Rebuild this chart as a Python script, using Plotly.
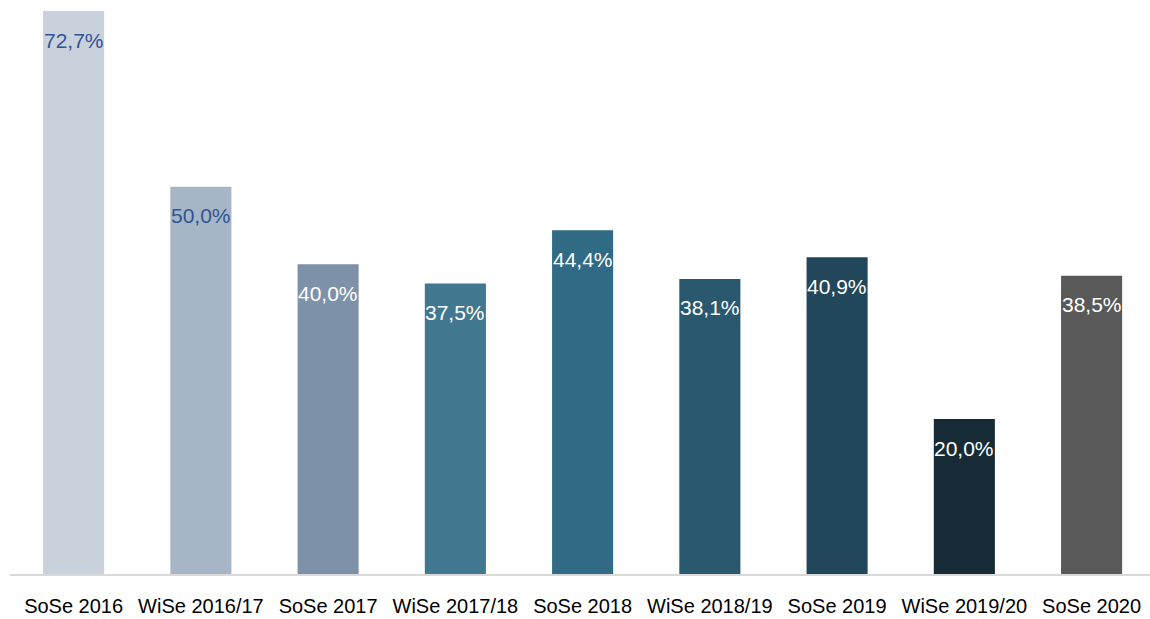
import plotly.graph_objects as go

categories = ["SoSe 2016", "WiSe 2016/17", "SoSe 2017", "WiSe 2017/18", "SoSe 2018",
              "WiSe 2018/19", "SoSe 2019", "WiSe 2019/20", "SoSe 2020"]
values = [72.7, 50.0, 40.0, 37.5, 44.4, 38.1, 40.9, 20.0, 38.5]
labels = ["72,7%", "50,0%", "40,0%", "37,5%", "44,4%", "38,1%", "40,9%", "20,0%", "38,5%"]
bar_colors = ["#C9D1DC", "#A6B6C6", "#7D92A9", "#42788F", "#306A85",
              "#2A586E", "#22475A", "#172B37", "#595959"]
label_colors = ["#2F5597", "#2F5597", "#FFFFFF", "#FFFFFF", "#FFFFFF",
                "#FFFFFF", "#FFFFFF", "#FFFFFF", "#FFFFFF"]

FONT = "Liberation Sans"

fig = go.Figure(go.Bar(
    x=list(range(len(categories))), y=values,
    marker=dict(color=bar_colors, line=dict(width=0)),
    hoverinfo="skip",
))

for i, (v, t, c) in enumerate(zip(values, labels, label_colors)):
    fig.add_annotation(x=i, y=v, text=t, showarrow=False, yshift=-29,
                       font=dict(family=FONT, size=21, color=c))

fig.update_layout(
    width=1150, height=619,
    margin=dict(l=10, r=0, t=0, b=45),
    paper_bgcolor="white", plot_bgcolor="white",
    bargap=0.52, showlegend=False,
    xaxis=dict(
        tickmode="array", tickvals=list(range(len(categories))), ticktext=categories,
        range=[-0.5, 8.459], showgrid=False, zeroline=False,
        showline=True, linecolor="#D9D9D9", linewidth=2,
        ticks="", ticklabelstandoff=13,
        tickfont=dict(family=FONT, size=20, color="#000000"),
    ),
    yaxis=dict(range=[0, 574/7.744], visible=False, showgrid=False, zeroline=False),
)

fig.write_html("out.html")
